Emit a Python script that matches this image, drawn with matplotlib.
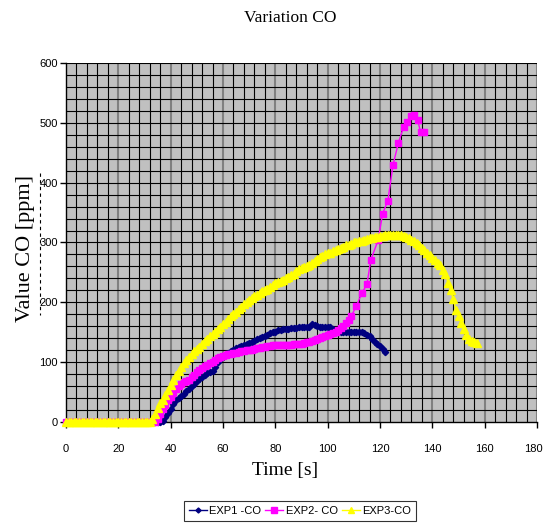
import numpy as np
import matplotlib
matplotlib.use("Agg")
import matplotlib.pyplot as plt
from matplotlib.lines import Line2D
from matplotlib.transforms import ScaledTranslation

# ---- data ----
exp1_time = np.arange(0, 123)
exp1_co = [0, 0, 0, 0, 0, 0, 0, 0, 0, 0,
           0, 0, 0, 0, 0, 0, 0, 0, 0, 0,
           0, 0, 0, 0, 0, 0, 0, 0, 0, 0,
           0, 0, 0, 0, 0, 0, 0,
           2, 8, 15, 22, 30, 36, 40, 44, 47, 51,
           55, 60, 64, 68, 72, 76, 79, 82, 84, 86,
           92, 100, 106, 109, 112, 116, 119, 121, 123, 125,
           127, 129, 130, 132, 134, 136, 138, 140, 142, 144,
           146, 148, 150, 151, 153, 154, 155, 156, 156, 157,
           157, 157, 158, 158, 158, 159, 159, 163, 162, 160,
           159, 159, 159, 158, 158, 155, 152, 151, 151, 151,
           151, 151, 151, 150, 151, 151, 150, 149, 146, 143,
           139, 134, 130, 127, 122, 117]

exp2_time = list(range(0, 109)) + [109, 111, 113, 115, 116.5, 119.3, 121, 123, 125,
                                   127, 129, 130.5, 132, 133, 134.4, 135.5, 137]
exp2_co = [0, 0, 0, 0, 0, 0, 0, 0, 0, 0,
           0, 0, 0, 0, 0, 0, 0, 0, 0, 0,
           0, 0, 0, 0, 0, 0, 0, 0, 0, 0,
           0, 0, 0, 0, 0,
           5, 14, 22, 29, 36, 42, 48, 55, 60, 64,
           67, 69, 71, 75, 79, 84, 87, 90, 93, 96,
           98, 101, 104, 107, 109, 111, 112, 113, 114, 115,
           116, 117, 118, 119, 120, 120, 121, 122, 123, 124,
           125, 126, 127, 127, 128, 128, 129, 129, 129, 129,
           129, 129, 130, 130, 131, 131, 132, 133, 134, 136,
           137, 138, 140, 142, 144, 145, 147, 149, 151, 154,
           157, 161, 165, 171,
           177, 194, 215, 230, 271, 304, 348, 370, 430, 466,
           493, 501, 512, 513, 504, 485, 485]

exp3_time = np.arange(0, 158)
exp3_co = [0, 0, 0, 0, 0, 0, 0, 0, 0, 0,
           0, 0, 0, 0, 0, 0, 0, 0, 0, 0,
           0, 0, 0, 0, 0, 0, 0, 0, 0, 0,
           0, 0, 0,
           5, 14, 24, 31, 37, 45, 53, 62, 70, 79,
           85, 92, 98, 104, 109, 114, 118, 122, 126, 130,
           135, 139, 143, 147, 151, 155, 159, 163, 167, 172,
           177, 180, 184, 189, 193, 197, 201, 204, 207, 210,
           213, 216, 219, 221, 223, 226, 229, 232, 234, 236,
           238, 240, 242, 245, 248, 252, 256, 258, 259, 261,
           263, 266, 269, 272, 275, 278, 280, 282, 283, 285,
           287, 289, 291, 293, 295, 296, 298, 300, 301, 302,
           303, 305, 306, 307, 308, 309, 310, 311, 311, 312,
           312, 313, 313, 313, 312, 312, 311, 310, 308, 305,
           302, 299, 295, 291, 287, 283, 279, 274, 270, 266,
           262, 254, 247, 233, 220, 205, 188, 177, 166, 155,
           146, 138, 135, 133, 132]

labels = ["EXP1 -CO", "EXP2- CO", "EXP3-CO"]
x_ticks = [0, 20, 40, 60, 80, 100, 120, 140, 160, 180]
y_ticks = [0, 100, 200, 300, 400, 500, 600]

# ---- style ----
tick_font = ['Liberation Sans', 'DejaVu Sans']
serif_font = ['Liberation Serif', 'DejaVu Serif']

fig = plt.figure(figsize=(5.44, 5.24), dpi=100)
ax = fig.add_axes([66/544, 1 - 422/524, (537-66)/544, (422-63)/524])
ax.set_facecolor('#C0C0C0')

ax.set_xlim(0, 180)
ax.set_ylim(0, 600)

# grid
for gx in np.arange(4, 180, 4):
    if gx % 20 == 0:
        ax.axvline(gx, color='#808080', lw=1.5, zorder=1)
    else:
        ax.axvline(gx, color='black', lw=0.8, zorder=1)
ax.axvline(180, color='#808080', lw=1.5, zorder=1)
for gy in np.arange(20, 601, 20):
    ax.axhline(gy, color='black', lw=0.8, zorder=1)

for s in ['top', 'right']:
    ax.spines[s].set_visible(False)
ax.spines['left'].set_color('black')
ax.spines['bottom'].set_color('black')
ax.spines['left'].set_linewidth(1.0)
ax.spines['bottom'].set_linewidth(1.0)

ax.plot(exp1_time, exp1_co, color='#000080', marker='D', ms=3.2, lw=1.0,
        label=labels[0], zorder=3, clip_on=False)
ax.plot(exp2_time, exp2_co, color='#FF00FF', marker='s', ms=5, lw=1.0,
        label=labels[1], zorder=4, clip_on=False)
ax.plot(exp3_time, exp3_co, color='#FFFF00', marker='^', ms=5.2, lw=1.0,
        label=labels[2], zorder=5, clip_on=False)

ax.set_xticks(x_ticks)
ax.set_yticks(y_ticks)
ax.set_xticklabels([str(v) for v in x_ticks], family=tick_font, fontsize=8)
ax.set_yticklabels([str(v) for v in y_ticks], family=tick_font, fontsize=8)
ax.tick_params(axis='x', direction='out', length=4, width=1, pad=12)
ax.tick_params(axis='y', direction='out', length=4, width=1, pad=2)

# nudge the last x tick label so it stays inside the figure
last_lbl = ax.get_xticklabels()[-1]
last_lbl.set_transform(last_lbl.get_transform() +
                       ScaledTranslation(-3.5/100, 0, fig.dpi_scale_trans))

fig.text(290/544, 1 - 18/524, "Variation CO", ha='center', va='center',
         family=serif_font, fontsize=12.5)
fig.text(26/544, 1 - 248/524, "Value CO [ppm]", ha='center', va='center',
         rotation=90, family=serif_font, fontsize=16)
fig.text(285/544, 1 - 470/524, "Time [s]", ha='center', va='center',
         family=serif_font, fontsize=14)

# small dashed artifact next to the y tick labels
fig.add_artist(Line2D([40/544, 40/544], [1 - 173/524, 1 - 315/524],
                      transform=fig.transFigure, color='black', lw=0.8,
                      linestyle=(0, (3, 3))))

handles, lbls = ax.get_legend_handles_labels()
leg = fig.legend(handles, lbls, loc='center', bbox_to_anchor=(300/544, 1 - 510.5/524),
                 ncol=3, frameon=True, fancybox=False, edgecolor='black',
                 prop={'family': tick_font, 'size': 8}, handlelength=1.6,
                 handletextpad=0.25, columnspacing=0.35, borderpad=0.45,
                 borderaxespad=0.0, markerscale=0.8)
leg.get_frame().set_linewidth(0.8)

fig.savefig("out.png", dpi=100)
